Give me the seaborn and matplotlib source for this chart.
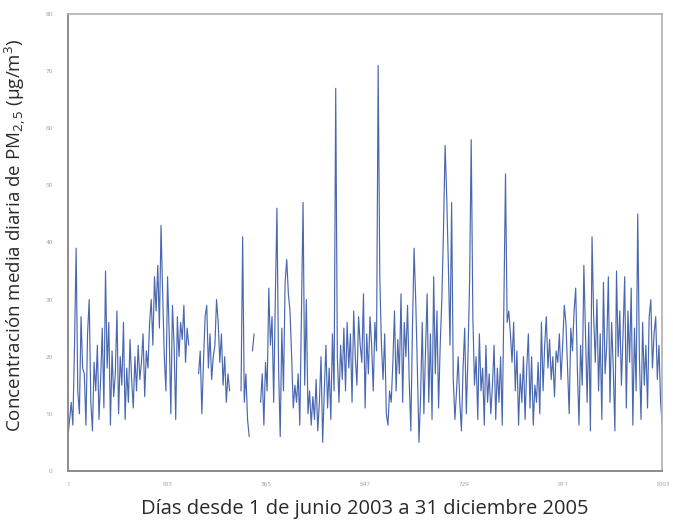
import numpy as np
import pandas as pd
import matplotlib
matplotlib.use("Agg")
import matplotlib.pyplot as plt
import seaborn as sns

nan = np.nan
pm25 = [
    6, 9, 12, 8, 22, 39, 14, 10, 27, 18,
    17, 8, 24, 30, 12, 7, 19, 14, 22, 9,
    16, 25, 11, 35, 18, 26, 8, 21, 13, 17,
    28, 10, 20, 15, 26, 9, 18, 12, 23, 16,
    11, 20, 14, 22, 16, 19, 24, 13, 21, 18,
    26, 30, 22, 34, 28, 36, 25, 43, 31, 20,
    14, 34, 24, 10, 29, 22, 9, 27, 20, 26,
    23, 29, 19, 25, 22, nan, nan, nan, nan, nan,
    17, 21, 10, 19, 27, 29, 18, 24, 16, 20,
    22, 30, 26, 19, 24, 15, 20, 12, 17, 14,
    nan, nan, nan, nan, nan, nan, 14, 41, 12, 17,
    9, 6, nan, 21, 24, nan, nan, nan, 12, 17,
    8, 19, 14, 32, 22, 27, 12, 30, 46, 18,
    6, 25, 14, 33, 37, 31, 28, 20, 11, 15,
    12, 17, 8, 28, 47, 15, 30, 10, 14, 8,
    13, 9, 16, 7, 12, 20, 5, 14, 22, 11,
    18, 9, 24, 14, 67, 20, 12, 22, 16, 25,
    14, 26, 18, 24, 12, 28, 20, 15, 27, 22,
    19, 31, 11, 24, 17, 27, 22, 14, 26, 21,
    71, 34, 22, 16, 24, 10, 8, 14, 12, 19,
    28, 14, 23, 17, 31, 12, 26, 20, 29, 16,
    7, 25, 39, 30, 18, 5, 13, 26, 10, 21,
    31, 12, 24, 9, 34, 17, 28, 11, 22, 30,
    42, 57, 48, 36, 22, 47, 16, 9, 14, 20,
    12, 7, 18, 25, 10, 20, 33, 58, 27, 15,
    20, 9, 24, 14, 18, 8, 22, 12, 17, 10,
    15, 22, 9, 18, 12, 20, 8, 29, 52, 26,
    28, 24, 19, 26, 14, 21, 8, 17, 12, 20,
    9, 18, 24, 11, 20, 8, 15, 12, 19, 10,
    26, 14, 22, 27, 18, 23, 16, 20, 13, 21,
    19, 24, 16, 22, 29, 26, 18, 10, 25, 21,
    28, 32, 18, 8, 22, 15, 36, 24, 12, 26,
    7, 41, 27, 19, 30, 14, 24, 9, 33, 17,
    22, 34, 12, 26, 18, 7, 35, 20, 28, 15,
    24, 34, 11, 28, 19, 32, 8, 25, 14, 45,
    20, 9, 26, 15, 22, 11, 27, 30, 18, 24,
    27, 16, 22, 12, 8,
]
days = np.arange(1, 1094, 3)

x_ticks = [1, 183, 365, 547, 729, 911, 1093]
y_ticks = [0, 10, 20, 30, 40, 50, 60, 70, 80]
xlabel = "Días desde 1 de junio 2003 a 31 diciembre 2005"
ylabel = r"Concentración media diaria de PM$_{2,5}$ (μg/m$^3$)"

df = pd.DataFrame({"day": days, "pm": pm25})
df["seg"] = df["pm"].isna().cumsum()
df = df.dropna()

sns.set_theme(style="white")
plt.rcParams["font.family"] = ["Open Sans", "DejaVu Sans"]
plt.rcParams["mathtext.fontset"] = "custom"
plt.rcParams["mathtext.rm"] = "Open Sans"
plt.rcParams["mathtext.it"] = "Open Sans"

fig = plt.figure(figsize=(6.73, 5.22), dpi=100)
ax = fig.add_axes([0.101, 0.098, 0.883, 0.875])

sns.lineplot(data=df, x="day", y="pm", units="seg", estimator=None,
             color="#4a68b0", linewidth=0.85, ax=ax, legend=False)

ax.set_xlim(1, 1093)
ax.set_ylim(0, 80)
ax.set_xticks(x_ticks)
ax.set_yticks(y_ticks)
ax.set_xticklabels([str(t) for t in x_ticks], fontsize=4.5, color="#9a9a9a")
ax.set_yticklabels([str(t) for t in y_ticks], fontsize=4.5, color="#9a9a9a")
ax.tick_params(axis="x", direction="inout", length=4, width=1.0,
               color="#9a9a9a", pad=6)
ax.tick_params(axis="y", direction="inout", length=4, width=1.0,
               color="#9a9a9a", pad=9)

for side in ["left", "bottom"]:
    ax.spines[side].set_color("#8c8c8c")
    ax.spines[side].set_linewidth(1.4)
for side in ["top", "right"]:
    ax.spines[side].set_color("#b0b0b0")
    ax.spines[side].set_linewidth(1.2)

ax.set_xlabel(xlabel, fontsize=14.5, color="#2a2a2a", labelpad=9)
ax.set_ylabel(ylabel, fontsize=13.5, color="#2a2a2a")
ax.yaxis.set_label_coords(-0.068, 0.516)

fig.savefig("out.png", dpi=100, facecolor="white")
